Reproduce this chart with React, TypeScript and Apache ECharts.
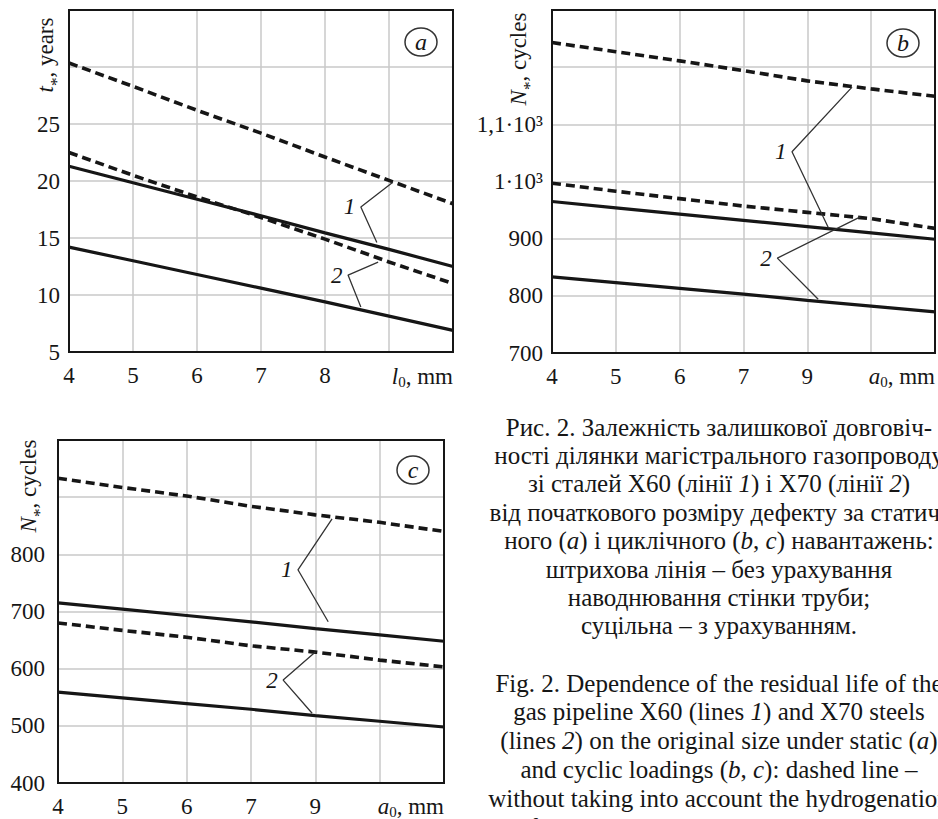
import React, { useEffect, useRef } from 'react';
import * as echarts from 'echarts';

// ---------- data ----------
const xValues = [4, 5, 6, 7, 8, 9, 10];

// panel a: t*, years vs l0, mm
const aDashed1 = [30.35, 28.3, 26.2, 24.2, 22.1, 20.05, 18.0];
const aSolid1 = [21.3, 19.85, 18.4, 16.95, 15.45, 14.0, 12.5];
const aDashed2 = [22.5, 20.5, 18.6, 16.8, 14.9, 12.9, 11.0];
const aSolid2 = [14.2, 13.0, 11.8, 10.6, 9.4, 8.15, 6.9];

// panel b: N*, cycles vs a0, mm
const bDashed1 = [1243, 1227, 1211, 1194, 1176, 1162, 1149];
const bDashed2 = [997, 983, 970, 957, 946, 935, 918];
const bSolid1 = [965, 954, 943, 932, 921, 910, 899];
const bSolid2 = [833, 823, 813, 803, 792, 782, 772];

// panel c: N*, cycles vs a0, mm
const cDashed1 = [933, 917, 902, 884, 869, 856, 840];
const cSolid1 = [715, 704, 693, 682, 670, 659, 648];
const cDashed2 = [680, 667, 655, 640, 629, 615, 603];
const cSolid2 = [559, 549, 539, 529, 518, 508, 498];

// leader lines (upper end, vertex, lower end) in data coordinates
const aLeader1 = [[9.06, 19.9], [8.56, 17.72], [8.81, 14.6]];
const aLeader2 = [[8.83, 12.89], [8.36, 11.75], [8.56, 8.95]];
const bLeader1 = [[8.7, 1165], [7.76, 1052], [8.33, 919]];
const bLeader2 = [[8.83, 938], [7.53, 866], [8.17, 794]];
const cLeader1 = [[8.26, 862], [7.73, 773], [8.2, 682]];
const cLeader2 = [[8.0, 629], [7.5, 580], [7.95, 522]];

// tick labels
const xTickLabelsA = ['4', '5', '6', '7', '8', '', ''];
const xTickLabelsBC = ['4', '5', '6', '7', '9', '', ''];
const yTickLabelsA = ['5', '10', '15', '20', '25', '', ''];
const yTickLabelsB = ['700', '800', '900', '1·10³', '1,1·10³', '', ''];
const yTickLabelsC = ['400', '500', '600', '700', '800', '', ''];

const CAPTION_UK = [
  'Рис. 2. Залежність залишкової довговіч-',
  'ності ділянки магістрального газопроводу',
  'зі сталей X60 (лінії _1_) і X70 (лінії _2_)',
  'від початкового розміру дефекту за статич-',
  'ного (_a_) і циклічного (_b_, _c_) навантажень:',
  'штрихова лінія – без урахування',
  'наводнювання стінки труби;',
  'суцільна – з урахуванням.',
];
const CAPTION_EN = [
  'Fig. 2. Dependence of the residual life of the',
  'gas pipeline X60 (lines _1_) and X70 steels',
  '(lines _2_) on the original size under static (_a_)',
  'and cyclic loadings (_b_, _c_): dashed line –',
  'without taking into account the hydrogenation',
  'of pipe wall; solid – taking into account.',
];

// ---------- styles ----------
const FONT = 'Liberation Serif, DejaVu Serif, serif';
const INK = '#161616';
const GRIDC = '#c9c9c9';
const TICK_FS = 23;
const CAP_FS = 25;

function toRich(line: string) {
  return line
    .split('_')
    .map((s, i) => (s ? `{${i % 2 ? 'i' : 'r'}|${s}}` : ''))
    .join('');
}

const capRich = {
  r: { fontFamily: FONT, fontSize: CAP_FS, fill: INK },
  i: { fontFamily: FONT, fontSize: CAP_FS, fontStyle: 'italic', fill: INK },
};

const nameRich = {
  i: { fontFamily: FONT, fontSize: TICK_FS, fontStyle: 'italic', fill: INK, lineHeight: 28 },
  n: { fontFamily: FONT, fontSize: TICK_FS, fill: INK, lineHeight: 28 },
  s: { fontFamily: FONT, fontSize: 15, fill: INK, lineHeight: 8, padding: [12, 0, 0, 0] },
  st: { fontFamily: FONT, fontSize: 17, fill: INK, lineHeight: 6, padding: [22, 0, 0, 0] },
};

function lineSeries(idx: number, values: number[], dashed: boolean) {
  return {
    type: 'line',
    xAxisIndex: idx,
    yAxisIndex: idx,
    data: xValues.map((x, i) => [x, values[i]]),
    symbol: 'none',
    silent: true,
    z: 3,
    lineStyle: { color: INK, width: dashed ? 3.6 : 3.2, type: dashed ? [9, 5] : 'solid' },
  };
}

function leaderSeries(idx: number, pts: number[][], label: string) {
  return {
    type: 'line',
    xAxisIndex: idx,
    yAxisIndex: idx,
    symbol: 'circle',
    symbolSize: 1,
    showSymbol: true,
    showAllSymbol: true,
    silent: true,
    z: 4,
    itemStyle: { color: 'rgba(0,0,0,0)' },
    lineStyle: { color: '#333', width: 1.3 },
    data: [
      pts[0],
      {
        value: pts[1],
        label: {
          show: true,
          position: 'left',
          distance: 5,
          formatter: label,
          fontFamily: FONT,
          fontStyle: 'italic',
          fontSize: TICK_FS,
          color: INK,
        },
      },
      pts[2],
    ],
  };
}

function xAxis(idx: number, labels: string[]) {
  return {
    type: 'value',
    gridIndex: idx,
    min: 4,
    max: 10,
    interval: 1,
    axisLine: { show: true, lineStyle: { color: INK, width: 2 } },
    axisTick: { show: false },
    splitLine: { show: true, showMinLine: false, showMaxLine: false, lineStyle: { color: GRIDC, width: 1.5 } },
    axisLabel: {
      fontFamily: FONT,
      fontSize: TICK_FS,
      color: INK,
      margin: 12,
      formatter: (v: number) => labels[Math.round(v - 4)] ?? '',
    },
  };
}

function yAxis(idx: number, min: number, max: number, interval: number, labels: string[], margin: number) {
  return {
    type: 'value',
    gridIndex: idx,
    min,
    max,
    interval,
    axisLine: { show: true, lineStyle: { color: INK, width: 2 } },
    axisTick: { show: false },
    splitLine: { show: true, showMinLine: false, showMaxLine: false, lineStyle: { color: GRIDC, width: 1.5 } },
    axisLabel: {
      fontFamily: FONT,
      fontSize: TICK_FS,
      color: INK,
      margin,
      formatter: (v: number) => labels[Math.round((v - min) / interval)] ?? '',
    },
  };
}

function circleLabel(cx: number, cy: number, letter: string) {
  return [
    { type: 'ellipse', shape: { cx, cy, rx: 16, ry: 14 }, style: { fill: 'none', stroke: '#333', lineWidth: 1.5 } },
    {
      type: 'text',
      x: cx,
      y: cy,
      style: {
        text: letter,
        fontFamily: FONT,
        fontSize: 24,
        fontStyle: 'italic',
        fill: INK,
        align: 'center',
        verticalAlign: 'middle',
      },
    },
  ];
}

function nameText(x: number, y: number, text: string, rotated: boolean, align: string) {
  return {
    type: 'text',
    x,
    y,
    rotation: rotated ? Math.PI / 2 : 0,
    style: { text, rich: nameRich, align, verticalAlign: 'middle' },
  };
}

const captionGraphics = [
  ...CAPTION_UK.map((line, i) => ({
    type: 'text',
    x: 719,
    y: 427 + i * 28.4,
    style: { text: toRich(line), rich: capRich, align: 'center', verticalAlign: 'middle' },
  })),
  ...CAPTION_EN.map((line, i) => ({
    type: 'text',
    x: 719,
    y: 683 + i * 28.8,
    style: { text: toRich(line), rich: capRich, align: 'center', verticalAlign: 'middle' },
  })),
];

const option = {
  animation: false,
  backgroundColor: '#ffffff',
  grid: [
    { left: 69, top: 10, width: 384, height: 342, show: true, borderColor: INK, borderWidth: 2, z: 5 },
    { left: 552, top: 10, width: 383, height: 343, show: true, borderColor: INK, borderWidth: 2, z: 5 },
    { left: 58, top: 440, width: 386, height: 343, show: true, borderColor: INK, borderWidth: 2, z: 5 },
  ],
  xAxis: [xAxis(0, xTickLabelsA), xAxis(1, xTickLabelsBC), xAxis(2, xTickLabelsBC)],
  yAxis: [
    yAxis(0, 5, 35, 5, yTickLabelsA, 9),
    yAxis(1, 700, 1300, 100, yTickLabelsB, 9),
    yAxis(2, 400, 1000, 100, yTickLabelsC, 13),
  ],
  series: [
    lineSeries(0, aDashed1, true),
    lineSeries(0, aSolid1, false),
    lineSeries(0, aDashed2, true),
    lineSeries(0, aSolid2, false),
    lineSeries(1, bDashed1, true),
    lineSeries(1, bDashed2, true),
    lineSeries(1, bSolid1, false),
    lineSeries(1, bSolid2, false),
    lineSeries(2, cDashed1, true),
    lineSeries(2, cSolid1, false),
    lineSeries(2, cDashed2, true),
    lineSeries(2, cSolid2, false),
    leaderSeries(0, aLeader1, '1'),
    leaderSeries(0, aLeader2, '2'),
    leaderSeries(1, bLeader1, '1'),
    leaderSeries(1, bLeader2, '2'),
    leaderSeries(2, cLeader1, '1'),
    leaderSeries(2, cLeader2, '2'),
  ],
  graphic: [
    ...circleLabel(421, 42, 'a'),
    ...circleLabel(903, 43, 'b'),
    ...circleLabel(413, 470, 'c'),
    nameText(453, 376, '{i|l}{s|0}{n|, mm}', false, 'right'),
    nameText(935, 376, '{i|a}{s|0}{n|, mm}', false, 'right'),
    nameText(444, 806, '{i|a}{s|0}{n|, mm}', false, 'right'),
    nameText(45, 55, '{i|t}{st|*}{n|, years}', true, 'center'),
    nameText(518, 59, '{i|N}{st|*}{n|, cycles}', true, 'center'),
    nameText(28, 486, '{i|N}{st|*}{n|, cycles}', true, 'center'),
    ...captionGraphics,
  ],
};

export default function App() {
  const ref = useRef<HTMLDivElement>(null);
  useEffect(() => {
    if (!ref.current) return;
    const chart = echarts.init(ref.current, null, { renderer: 'svg' });
    chart.setOption(option as any);
    return () => chart.dispose();
  }, []);
  return (
    <div
      ref={ref}
      style={{ position: 'fixed', left: 0, top: 0, width: 938, height: 819, background: '#fff', overflow: 'hidden' }}
    />
  );
}
